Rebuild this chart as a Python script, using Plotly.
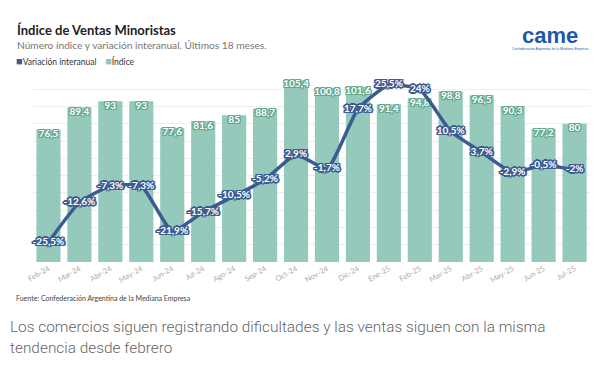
import plotly.graph_objects as go

months = ["Feb-24", "Mar-24", "Abr-24", "May-24", "Jun-24", "Jul-24", "Ago-24", "Sep-24",
          "Oct-24", "Nov-24", "Dic-24", "Ene-25", "Feb-25", "Mar-25", "Abr-25", "May-25",
          "Jun-25", "Jul-25"]
indice = [76.5, 89.4, 93, 93, 77.6, 81.6, 85, 88.7, 105.4, 100.8, 101.6, 91.4, 94.8, 98.8,
          96.5, 90.3, 77.2, 80]
variacion = [-25.5, -12.6, -7.3, -7.3, -21.9, -15.7, -10.5, -5.2, 2.9, -1.7, 17.7, 25.5, 24,
             10.5, 3.7, -2.9, -0.5, -2]


def fmt(v):
    return ("%g" % v).replace(".", ",")


BAR = "#94c9bb"
BAR_DARK = "#63a892"
LINE = "#3c5b91"

W, H = 606, 370
OFF = 8  # page body margin in the browser
# plot area in reference pixels: x 33..590, y 72..262
L = 33 - OFF
T = 72 - OFF
R = W - (590 - OFF)
B = H - (262 - OFF)
PW, PH = W - L - R, H - T - B


def px(x):
    return (x - OFF - L) / PW


def py(y):
    return (H - B - (y - OFF)) / PH


def outline(c, w=1.5):
    parts = []
    for dx, dy in [(-w, 0), (w, 0), (0, -w), (0, w), (-1, -1), (1, -1), (-1, 1), (1, 1),
                   (-w, -1), (w, 1), (-w, 1), (w, -1)]:
        parts.append(f"{dx}px {dy}px 0 {c}")
    return ", ".join(parts)


fig = go.Figure()
fig.add_trace(go.Bar(
    x=months, y=indice, marker=dict(color=BAR, line=dict(width=0)),
    showlegend=False, hoverinfo="skip", yaxis="y"))
fig.add_trace(go.Scatter(
    x=months, y=indice, mode="text", text=[fmt(v) for v in indice],
    textposition="bottom center",
    textfont=dict(family="Lato", size=10, color="white", weight="bold",
                  shadow=outline(BAR_DARK, 1)),
    showlegend=False, hoverinfo="skip", yaxis="y", cliponaxis=False))
fig.add_trace(go.Scatter(
    x=months, y=variacion, mode="lines+text", text=[fmt(v) + "%" for v in variacion],
    textposition="middle center",
    line=dict(color=LINE, width=3.5, shape="spline", smoothing=0.5),
    textfont=dict(family="Lato", size=10, color="white", weight="bold",
                  shadow=outline(LINE, 1.6)),
    showlegend=False, hoverinfo="skip", yaxis="y2", cliponaxis=False))

ann = [
    dict(x=px(15), y=py(30), text="<b>Índice de Ventas Minoristas</b>", xanchor="left",
         yanchor="middle", font=dict(family="Lato", size=13, color="#222")),
    dict(x=px(15), y=py(45), text="Número índice y variación interanual. Últimos 18 meses.",
         xanchor="left", yanchor="middle", font=dict(family="Lato", size=10.2, color="#777")),
    dict(x=px(14), y=py(60),
         text=f"<span style='color:{LINE};font-size:11px'>■</span>Variación interanual"
              f"&nbsp;&nbsp;&nbsp;&nbsp;<span style='color:{BAR};font-size:11px'>■</span>Índice",
         xanchor="left", yanchor="middle", font=dict(family="Lato", size=8.5, color="#333")),
    dict(x=px(14), y=py(298), text="Fuente: Confederación Argentina de la Mediana Empresa",
         xanchor="left", yanchor="middle", font=dict(family="Lato", size=7, color="#444")),
    dict(x=px(8), y=py(327),
         text="Los comercios siguen registrando dificultades y las ventas siguen con la misma",
         xanchor="left", yanchor="middle",
         font=dict(family="Roboto", size=15.4, color="#666", weight=300)),
    dict(x=px(8), y=py(348), text="tendencia desde febrero",
         xanchor="left", yanchor="middle",
         font=dict(family="Roboto", size=15.4, color="#666", weight=300)),
    dict(x=px(550), y=py(35), text="<b>came</b>", xanchor="center", yanchor="middle",
         font=dict(family="Liberation Sans", size=22, color="#1f5aa6")),
    dict(x=px(550), y=py(49), text="Confederación Argentina de la Mediana Empresa",
         xanchor="center", yanchor="middle",
         font=dict(family="Liberation Sans", size=3.5, color="#1f5aa6")),
]
for a in ann:
    a.update(xref="paper", yref="paper", showarrow=False)

fig.update_layout(
    width=W, height=H, margin=dict(l=L, r=R, t=T, b=B, autoexpand=False),
    paper_bgcolor="white", plot_bgcolor="white",
    bargap=0.22, showlegend=False,
    font=dict(family="Lato"),
    xaxis=dict(type="category", tickangle=-30, tickfont=dict(size=7.5, color="#aaa"),
               showgrid=False, showline=False, ticks="", range=[-0.5, 17.5]),
    yaxis=dict(range=[0, 110], dtick=10, showticklabels=False, gridcolor="#eeeeee",
               gridwidth=1, zeroline=False),
    yaxis2=dict(range=[-31.9, 29.7], overlaying="y", showgrid=False, showticklabels=False,
                zeroline=False),
    annotations=ann,
)

fig.write_html("out.html")
